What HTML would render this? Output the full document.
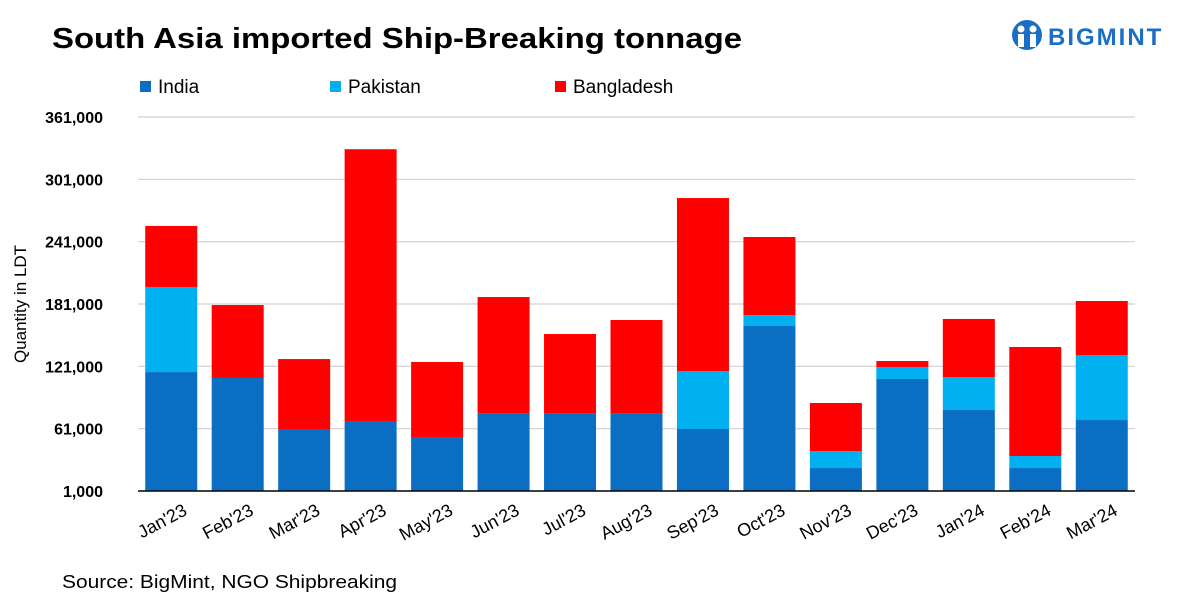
<!DOCTYPE html>
<html><head><meta charset="utf-8"><style>
body{margin:0;background:#fff;font-family:"Liberation Sans",sans-serif;}
svg{display:block}
</style></head><body>
<svg width="1200" height="600" id="chart">
<text x="52" y="48" font-size="29" font-weight="bold" fill="#000" textLength="690" lengthAdjust="spacingAndGlyphs">South Asia imported Ship-Breaking tonnage</text>
<g>
<circle cx="1027" cy="35" r="15" fill="#1a6fc4"/>
<circle cx="1021" cy="29" r="3.5" fill="#fff"/><circle cx="1033" cy="29" r="3.5" fill="#fff"/>
<rect x="1018" y="34" width="6" height="13" fill="#fff"/><rect x="1030" y="34" width="6" height="13" fill="#fff"/>
<text x="1048" y="45" font-size="24" font-weight="bold" fill="#1a6fc4" letter-spacing="2">BIGMINT</text>
</g>
<g id="legend"></g>
<g id="grid"></g><g id="bars"></g><g id="axes"></g>
<text transform="translate(26,304) rotate(-90)" text-anchor="middle" font-size="17" fill="#000">Quantity in LDT</text>
<text x="62" y="588" font-size="18" fill="#000" textLength="335" lengthAdjust="spacingAndGlyphs">Source: BigMint, NGO Shipbreaking</text>
</svg>
<script>
const categories=["Jan'23","Feb'23","Mar'23","Apr'23","May'23","Jun'23","Jul'23","Aug'23","Sep'23","Oct'23","Nov'23","Dec'23","Jan'24","Feb'24","Mar'24"];
const india=[115500,109800,60700,68400,53000,76000,76000,76000,60700,159800,23100,108800,79000,23100,69300];
const pakistan=[81900,0,0,0,0,0,0,0,55800,10600,16400,11600,31700,11600,62600];
const bangladesh=[58700,70200,67300,261600,72200,111700,76100,89600,166500,75100,46200,5700,55900,104900,52000];
const yTicks=[1000,61000,121000,181000,241000,301000,361000];
const seriesNames=["India","Pakistan","Bangladesh"];
const colors=["#0a6fc2","#00b0f0","#ff0000"];
const NS="http://www.w3.org/2000/svg";
const X0=138,X1=1135,Y0=491,Y1=117,ymin=1000,ymax=361000;
const y=v=>Y0-(v-ymin)/(ymax-ymin)*(Y0-Y1);
const band=(X1-X0)/categories.length;
const xc=i=>X0+band*(i+0.5);
function mk(t,a,p){const e=document.createElementNS(NS,t);for(const k in a)e.setAttribute(k,a[k]);p.appendChild(e);return e;}
const grid=document.getElementById('grid'),axes=document.getElementById('axes'),bars=document.getElementById('bars'),leg=document.getElementById('legend');
yTicks.forEach((t,i)=>{
 const l=mk('line',{x1:X0,x2:X1,y1:y(t),y2:y(t),stroke:i==0?'#000':'#d0d0d0','stroke-width':i==0?1.5:1.2},i==0?axes:grid);
 
 
 const tx=mk('text',{x:103,y:y(t)+6,'text-anchor':'end','font-size':16,'font-weight':'bold',fill:'#000'},axes);
 tx.textContent=t.toLocaleString('en-US');
 
 
});
const series=[india,pakistan,bangladesh];
categories.forEach((c,i)=>{
 let cum=0;
 series.forEach((s,k)=>{
  const b=Math.max(cum,ymin);cum+=s[i];
  if(s[i]>0){
   const r=mk('rect',{x:xc(i)-26,width:52,y:y(cum),height:y(b)-y(cum),fill:colors[k]},bars);
   
   
  }
 });
 const tx=mk('text',{transform:`translate(${xc(i)+17},${514}) rotate(-28)`,'text-anchor':'end','font-size':18,fill:'#000'},axes);
 tx.textContent=c;
 
 
});
const lx=[140,330,555];
seriesNames.forEach((n,k)=>{
 const r=mk('rect',{x:lx[k],y:81,width:11,height:11,fill:colors[k]},leg);
 
 
 const t=mk('text',{x:lx[k]+18,y:93,'font-size':19,fill:'#000'},leg);
 t.textContent=n;
 
 
});
</script>
</body></html>
